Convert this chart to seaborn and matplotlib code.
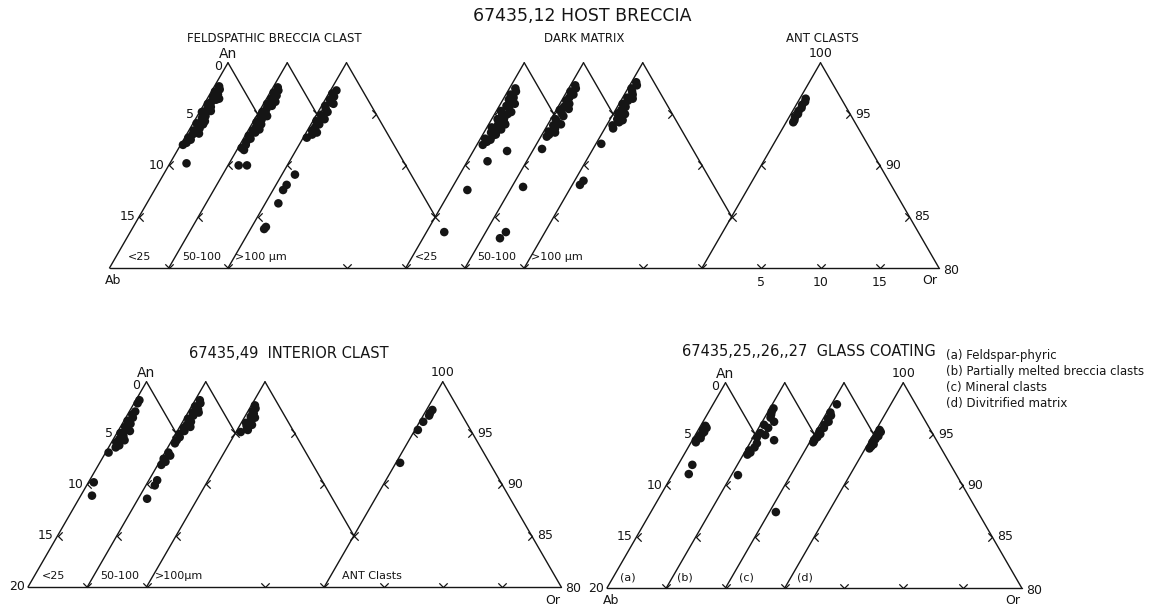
import numpy as np
import pandas as pd
import seaborn as sns
import matplotlib.pyplot as plt
from matplotlib.path import Path

# An / Or (mol %) of each plagioclase, one pair per triangle
# 67435,12 host breccia
fbc_a_an = [97.7, 97.4, 97.2, 96.9, 96.7, 96.4, 96.2, 96.0, 95.7, 95.5, 95.3, 95.0, 94.8, 94.6, 94.3,
            94.1, 93.9, 93.6, 93.4, 93.2, 93.0, 92.7, 92.5, 92.2, 92.0, 96.5, 95.2, 94.0, 93.1, 90.2]
fbc_a_or = [0.4, 0.6, 0.3, 0.7, 0.4, 0.8, 0.5, 0.3, 0.7, 0.5, 0.9, 0.4, 0.7, 0.5, 0.9,
            0.3, 0.6, 0.8, 0.4, 0.7, 0.5, 0.3, 0.6, 0.4, 0.2, 1.0, 0.2, 0.9, 1.0, 1.4]
fbc_b_an = [97.6, 97.3, 97.1, 96.8, 96.5, 96.3, 96.0, 95.8, 95.5, 95.2, 95.0, 94.7, 94.5, 94.2, 94.0,
            93.7, 93.4, 93.2, 92.9, 92.6, 92.3, 92.0, 91.7, 91.5, 96.2, 94.8, 93.5, 90.0, 90.0]
fbc_b_or = [0.4, 0.6, 0.3, 0.7, 0.4, 0.6, 0.3, 0.8, 0.5, 0.3, 0.7, 0.4, 0.6, 0.3, 0.8,
            0.5, 0.4, 0.7, 0.3, 0.6, 0.4, 0.5, 0.3, 0.6, 0.9, 0.9, 0.9, 0.9, 1.6]
fbc_c_an = [97.3, 97.0, 96.7, 96.4, 96.1, 95.8, 95.5, 95.2, 94.9, 94.6, 94.3, 94.0, 93.7, 93.4, 93.0,
            92.7, 96.0, 94.5, 93.2, 89.1, 88.1, 87.6, 86.3, 84.0, 83.8]
fbc_c_or = [0.5, 0.3, 0.6, 0.4, 0.7, 0.3, 0.5, 0.8, 0.4, 0.6, 0.3, 0.7, 0.5, 0.4, 0.6,
            0.3, 0.9, 0.9, 0.9, 1.1, 0.9, 0.85, 1.1, 1.2, 1.15]
dm_a_an = [97.5, 97.2, 96.9, 96.6, 96.4, 96.1, 95.8, 95.6, 95.3, 95.0, 94.8, 94.5, 94.2, 94.0, 93.7, 93.4,
           93.2, 92.9, 92.6, 92.3, 92.0, 96.0, 95.2, 94.6, 94.0, 93.5, 93.0, 92.5, 91.4, 90.4, 87.6, 83.5]
dm_a_or = [0.5, 0.7, 0.4, 0.8, 0.5, 1.0, 0.6, 0.9, 0.4, 1.1, 0.7, 0.5, 1.2, 0.8, 0.4, 1.0,
           0.6, 0.9, 0.4, 0.7, 0.5, 1.2, 1.3, 1.0, 1.4, 1.3, 1.1, 0.9, 2.85, 1.7, 1.4, 1.5]
dm_b_an = [97.8, 97.5, 97.2, 96.9, 96.6, 96.3, 96.0, 95.7, 95.4, 95.1, 94.8, 94.5, 94.2, 93.9, 93.6,
           93.3, 93.0, 92.8, 95.5, 94.0, 93.2, 91.6, 87.9, 82.9, 83.5]
dm_b_or = [0.4, 0.6, 0.3, 0.7, 0.5, 0.4, 0.8, 0.5, 0.3, 0.6, 0.9, 0.4, 0.7, 0.5, 0.8,
           0.4, 0.6, 0.5, 1.0, 1.1, 1.0, 0.7, 0.95, 1.5, 1.7]
dm_c_an = [98.1, 97.8, 97.5, 97.2, 96.9, 96.6, 96.3, 96.0, 95.7, 95.4, 95.1, 94.8, 94.5, 94.2, 93.9,
           93.6, 96.5, 95.0, 94.4, 92.1, 88.1, 88.5]
dm_c_or = [0.4, 0.6, 0.3, 0.5, 0.7, 0.4, 0.6, 0.3, 0.7, 0.5, 0.4, 0.8, 0.6, 0.9, 0.5,
           0.7, 0.9, 1.0, 1.1, 0.45, 0.65, 0.75]
ant_an = [96.5, 96.2, 95.9, 95.6, 95.3, 95.0, 94.7, 94.4, 94.2]
ant_or = [0.5, 0.6, 0.5, 0.6, 0.5, 0.6, 0.5, 0.6, 0.6]

# 67435,49 interior clast
int_a_an = [98.2, 97.9, 97.1, 96.8, 96.5, 96.2, 95.9, 95.6, 95.3, 95.0, 94.7, 94.4, 94.1, 93.8,
            93.6, 93.1, 95.2, 94.3, 90.2, 88.9]
int_a_or = [0.3, 0.3, 0.5, 0.4, 0.6, 0.3, 0.7, 0.4, 0.6, 0.3, 0.7, 0.5, 0.4, 0.8,
            0.6, 0.25, 1.0, 1.0, 0.45, 0.95]
int_b_an = [98.2, 97.9, 97.6, 97.3, 97.0, 96.7, 96.4, 96.1, 95.8, 95.5, 95.2, 94.9, 94.6, 94.3, 94.0,
            97.0, 95.6, 93.1, 92.8, 92.5, 92.2, 91.9, 90.4, 89.9, 88.6]
int_b_or = [0.4, 0.6, 0.3, 0.7, 0.4, 0.6, 0.3, 0.7, 0.5, 0.4, 0.6, 0.3, 0.5, 0.4, 0.4,
            0.9, 0.9, 0.3, 0.6, 0.2, 0.5, 0.3, 0.7, 0.75, 0.75]
int_c_an = [97.7, 97.4, 97.1, 96.9, 96.6, 96.3, 96.0, 95.7, 95.4, 95.1, 96.5, 95.8, 95.3]
int_c_or = [0.3, 0.5, 0.4, 0.6, 0.5, 0.7, 0.4, 0.6, 0.8, 0.4, 0.9, 1.0, 0.9]
int_ant_an = [97.25, 96.95, 96.7, 96.1, 95.3, 92.1]
int_ant_or = [0.5, 0.45, 0.5, 0.3, 0.25, 0.35]

# 67435,25,,26,,27 glass coating
gl_a_an = [95.8, 95.6, 95.4, 95.2, 95.0, 94.8, 94.6, 94.4, 94.2, 92.0, 91.1]
gl_a_or = [0.4, 0.6, 0.4, 0.6, 0.5, 0.4, 0.6, 0.3, 0.4, 1.2, 1.35]
gl_b_an = [97.5, 97.2, 96.9, 96.6, 95.9, 95.6, 96.2, 95.1, 94.7, 94.4, 94.1, 93.4, 93.2, 93.0, 91.0, 94.9, 93.7]
gl_b_or = [0.3, 0.3, 0.4, 0.5, 0.3, 0.8, 1.0, 0.4, 0.3, 1.9, 0.6, 0.3, 0.5, 0.35, 0.55, 0.9, 0.6]
gl_c_an = [97.9, 97.1, 96.8, 96.5, 96.2, 95.9, 95.6, 95.3, 95.0, 94.7, 94.4, 94.2, 87.4]
gl_c_or = [0.45, 0.3, 0.5, 0.4, 0.6, 0.4, 0.5, 0.3, 0.5, 0.4, 0.3, 0.3, 0.55]
gl_d_an = [95.4, 95.2, 95.0, 94.8, 94.5, 94.2, 94.0, 93.8, 93.6]
gl_d_or = [0.3, 0.5, 0.3, 0.5, 0.4, 0.3, 0.5, 0.4, 0.35]

legend_lines = ["(a) Feldspar-phyric", "(b) Partially melted breccia clasts",
                "(c) Mineral clasts", "(d) Divitrified matrix"]

W, H = 1163, 607
S = 11.85          # pixels per mol % on the page
R3 = np.sqrt(3) / 2
PX = 0.72          # points per pixel at 100 dpi


def tern(an, orr, off):
    an = np.asarray(an, float)
    orr = np.asarray(orr, float)
    return off + orr + (an - 80) / 2, (an - 80) * R3


panels = [
    dict(ox=109.5 / S, oy=(H - 268) / S, offs=[0, 5, 10, 25, 30, 35, 50],
         sets=[(fbc_a_an, fbc_a_or), (fbc_b_an, fbc_b_or), (fbc_c_an, fbc_c_or),
               (dm_a_an, dm_a_or), (dm_b_an, dm_b_or), (dm_c_an, dm_c_or), (ant_an, ant_or)],
         inner=[("<25", 18), ("50-100", 13), (">100 µm", 7), ("<25", 9), ("50-100", 12), (">100 µm", 7), None],
         corner=["Ab"], base_nums=True),
    dict(ox=28 / S, oy=(H - 587) / S, offs=[0, 5, 10, 25],
         sets=[(int_a_an, int_a_or), (int_b_an, int_b_or), (int_c_an, int_c_or), (int_ant_an, int_ant_or)],
         inner=[("<25", 14), ("50-100", 13), (">100µm", 8), ("ANT Clasts", 18)],
         corner=["20"], base_nums=False),
    dict(ox=607 / S, oy=(H - 588) / S, offs=[0, 5, 10, 15],
         sets=[(gl_a_an, gl_a_or), (gl_b_an, gl_b_or), (gl_c_an, gl_c_or), (gl_d_an, gl_d_or)],
         inner=[("(a)", 13), ("(b)", 11), ("(c)", 13), ("(d)", 12)],
         corner=["20", "Ab"], base_nums=False),
]

sns.set_theme(style="white")
plt.rcParams["font.family"] = ["DejaVu Sans"]
INK = "#151515"

fig = plt.figure(figsize=(W / 100, H / 100), dpi=100)
ax = fig.add_axes([0, 0, 1, 1])
ax.set_xlim(0, W / S)
ax.set_ylim(0, H / S)
ax.set_axis_off()

chev_left = Path([(1, 1), (0, 0), (1, -1)], [Path.MOVETO, Path.LINETO, Path.LINETO])
chev_right = Path([(-1, 1), (0, 0), (-1, -1)], [Path.MOVETO, Path.LINETO, Path.LINETO])
chev_down = Path([(-1, 1), (0, 0), (1, 1)], [Path.MOVETO, Path.LINETO, Path.LINETO])
tick_kw = dict(ls="none", ms=6, mew=0.9, mfc="none", mec=INK)

rows = []
for p in panels:
    ox, oy, offs = p["ox"], p["oy"], p["offs"]
    n = len(offs)
    # baseline
    ax.plot([ox, ox + offs[-1] + 20], [oy, oy], color=INK, lw=1.0)
    base_ticks = []
    for i, o in enumerate(offs):
        end = 20 if i == n - 1 else min(offs[i + 1] - o, 20)
        # left side: Or = 0, right side: Ab = 0 down to where it meets the next triangle
        lx, ly = tern([80, 100], [0, 0], o)
        rx, ry = tern([100, 100 - end], [0, end], o)
        ax.plot(ox + lx, oy + ly, color=INK, lw=1.0)
        ax.plot(ox + rx, oy + ry, color=INK, lw=1.0)
        lev = np.array([5, 10, 15])
        tx, ty = tern(100 - lev, 0 * lev, o)
        ax.plot(ox + tx, oy + ty, marker=chev_left, **tick_kw)
        rl = lev[lev <= end]
        tx, ty = tern(100 - rl, rl, o)
        ax.plot(ox + tx, oy + ty, marker=chev_right, **tick_kw)
        if i > 0:
            base_ticks.append(o)
        if i < n - 1:
            base_ticks.append(o + 20)
        else:
            base_ticks += [o + 5, o + 10, o + 15]
        lab = p["inner"][i]
        if lab:
            ax.annotate(lab[0], (ox + o, oy), xytext=(lab[1] * PX, 4), textcoords="offset points",
                        ha="left", va="bottom", fontsize=8, color=INK)
    bt = np.array(sorted(set(base_ticks)), float)
    ax.plot(ox + bt, oy + 0 * bt, marker=chev_down, **tick_kw)

    # labels on the first triangle (Ab side)
    ax.annotate("An", (ox + 10, oy + 20 * R3), xytext=(0, 9 * PX), textcoords="offset points",
                ha="center", va="center", fontsize=10, color=INK)
    ax.annotate("0", (ox + 10, oy + 20 * R3), xytext=(-10 * PX, -4 * PX), textcoords="offset points",
                ha="center", va="center", fontsize=9, color=INK)
    for lv in [5, 10, 15]:
        ax.annotate(str(lv), (ox + (20 - lv) / 2, oy + (20 - lv) * R3), xytext=(-4 * PX, 0),
                    textcoords="offset points", ha="right", va="center", fontsize=9, color=INK)
    for c in p["corner"]:
        if c == "20":
            ax.annotate("20", (ox, oy), xytext=(-3 * PX, 0), textcoords="offset points",
                        ha="right", va="center", fontsize=9, color=INK)
        else:
            ax.annotate("Ab", (ox, oy), xytext=(4 * PX, -12 * PX), textcoords="offset points",
                        ha="center", va="center", fontsize=9, color=INK)

    # labels on the big triangle (Or side)
    ob = offs[-1]
    ax.annotate("100", (ox + ob + 10, oy + 20 * R3), xytext=(0, 9 * PX), textcoords="offset points",
                ha="center", va="center", fontsize=9, color=INK)
    for lv in [5, 10, 15]:
        px_, py_ = tern(100 - lv, lv, ob)
        ax.annotate(str(100 - lv), (ox + px_, oy + py_), xytext=(5 * PX, 0), textcoords="offset points",
                    ha="left", va="center", fontsize=9, color=INK)
    ax.annotate("80", (ox + ob + 20, oy), xytext=(4 * PX, -2 * PX), textcoords="offset points",
                ha="left", va="center", fontsize=9, color=INK)
    ax.annotate("Or", (ox + ob + 20, oy), xytext=(-9 * PX, -13 * PX), textcoords="offset points",
                ha="center", va="center", fontsize=9, color=INK)
    if p["base_nums"]:
        for lv in [5, 10, 15]:
            ax.annotate(str(lv), (ox + ob + lv, oy), xytext=(0, -14 * PX), textcoords="offset points",
                        ha="center", va="center", fontsize=9, color=INK)

    for i, (an, orr) in enumerate(p["sets"]):
        x, y = tern(an, orr, offs[i])
        rows.append(pd.DataFrame({"x": ox + x, "y": oy + y}))

pts = pd.concat(rows, ignore_index=True)
sns.scatterplot(data=pts, x="x", y="y", color=INK, s=38, edgecolor="none", ax=ax, legend=False)

def ftext(x, y, s, **kw):
    fig.text(x / W, 1 - y / H, s, color=INK, **kw)

ftext(582, 16, "67435,12 HOST BRECCIA", ha="center", va="center", fontsize=12.5)
ftext(274, 39, "FELDSPATHIC BRECCIA CLAST", ha="center", va="center", fontsize=8.5)
ftext(584, 39, "DARK MATRIX", ha="center", va="center", fontsize=8.5)
ftext(822, 39, "ANT CLASTS", ha="center", va="center", fontsize=8.5)
ftext(289, 353, "67435,49  INTERIOR CLAST", ha="center", va="center", fontsize=10.5)
ftext(809, 352, "67435,25,,26,,27  GLASS COATING", ha="center", va="center", fontsize=10.5)
for k, line in enumerate(legend_lines):
    ftext(946, 355 + 16 * k, line, ha="left", va="center", fontsize=8.5)

fig.savefig("out.png", dpi=100, facecolor="white")
